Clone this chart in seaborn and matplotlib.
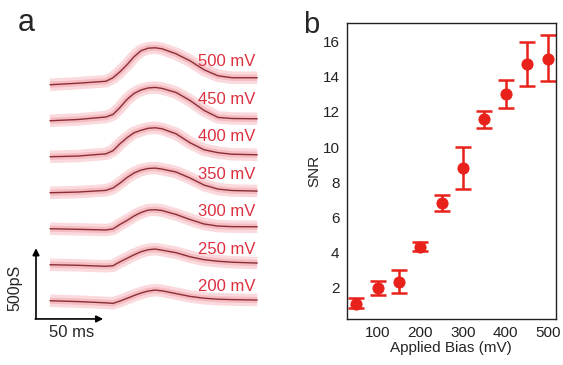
import numpy as np
import pandas as pd
import matplotlib
matplotlib.use('Agg')
import matplotlib.pyplot as plt
import seaborn as sns

# panel a: conductance traces (pS) vs time (ms)
t_ms = [0, 20, 40, 45, 50, 55, 60, 65, 70, 75, 80, 90, 100, 110, 120, 130, 148]
g_200 = [0, -6, -15, -19, -2, 17, 37, 55, 69, 76, 71, 51, 31, 18, 11, 8, 5]
g_250 = [0, -4, -11, -7, 21, 46, 71, 93, 107, 112, 104, 86, 57, 36, 25, 18, 12]
g_300 = [0, -4, -9, -1, 31, 59, 91, 116, 133, 136, 130, 102, 66, 34, 19, 15, 14]
g_350 = [0, 5, 17, 34, 69, 109, 141, 162, 173, 176, 169, 148, 105, 55, 26, 16, 12]
g_400 = [0, 5, 21, 43, 93, 136, 171, 189, 203, 207, 200, 164, 100, 50, 29, 18, 14]
g_450 = [0, 9, 27, 45, 95, 152, 195, 220, 234, 238, 231, 202, 145, 74, 24, 16, 14]
g_500 = [0, 11, 25, 50, 93, 143, 200, 243, 261, 264, 257, 221, 171, 107, 64, 50, 50]
trace_labels = ['200 mV', '250 mV', '300 mV', '350 mV', '400 mV', '450 mV', '500 mV']

# panel b: SNR vs applied bias
bias = [50, 100, 150, 200, 250, 300, 350, 400, 450, 500]
snr = [1.08, 1.96, 2.29, 4.33, 6.83, 8.81, 11.6, 13.03, 14.75, 15.03]
snr_lo = [0.85, 1.58, 1.66, 4.10, 6.35, 7.61, 11.06, 12.25, 13.49, 13.77]
snr_hi = [1.37, 2.34, 2.99, 4.61, 7.29, 10.02, 12.08, 13.83, 15.99, 16.37]

sns.set_style('white')
plt.rcParams['font.family'] = ['Liberation Sans', 'DejaVu Sans']

red = '#e8211b'
label_red = '#dc3040'

fig = plt.figure(figsize=(5.63, 3.65), dpi=100)

# ---- panel a ----
ax_a = fig.add_axes([0, 20 / 365, 262 / 563, 330 / 365])
ax_a.set_xlim(-35.7, 151.4)
ax_a.set_ylim(-316, 2040)
ax_a.axis('off')

step = 257
traces = [g_200, g_250, g_300, g_350, g_400, g_450, g_500]
for i, (g, lab) in enumerate(zip(traces, trace_labels)):
    df = pd.DataFrame({'t': t_ms, 'g': np.array(g) + i * step})
    # noisy raw-data band, drawn as soft wide strokes
    sns.lineplot(data=df, x='t', y='g', ax=ax_a, color='#fad6da', lw=9,
                 alpha=0.9, solid_capstyle='butt', legend=False)
    sns.lineplot(data=df, x='t', y='g', ax=ax_a, color='#f2a9b1', lw=4.5,
                 alpha=0.6, solid_capstyle='butt', legend=False)
    sns.lineplot(data=df, x='t', y='g', ax=ax_a, color='#8a2e36', lw=1.0,
                 legend=False)
    ax_a.text(147, i * 268 + 100, lab, color=label_red, fontsize=12,
              ha='right', va='center')
ax_a.set_xlabel('')
ax_a.set_ylabel('')

# scale bar arrows
arrow = dict(arrowstyle='-|>', lw=1.2, color='black', mutation_scale=10,
             shrinkA=0, shrinkB=0)
ax_a.annotate('', xy=(-10, 375), xytext=(-10, -130), arrowprops=arrow)
ax_a.annotate('', xy=(38, -130), xytext=(-10.5, -130), arrowprops=arrow)
ax_a.text(-0.7, -225, '50 ms', fontsize=12, ha='left', va='center')
ax_a.text(-25, 95, '500pS', fontsize=11.5, rotation=90, ha='center', va='center')

# ---- panel b ----
ax_b = fig.add_axes([346.5 / 563, 46 / 365, 209.5 / 563, 296 / 365])
yerr = [np.array(snr) - np.array(snr_lo), np.array(snr_hi) - np.array(snr)]
ax_b.errorbar(bias, snr, yerr=yerr, fmt='none', ecolor=red, elinewidth=1.8,
              capsize=6, capthick=1.8, zorder=2)
sns.scatterplot(x=bias, y=snr, ax=ax_b, color=red, edgecolor=red, s=65,
                zorder=3, legend=False)
ax_b.set_xlim(27, 518)
ax_b.set_ylim(0.2, 17.07)
ax_b.set_xticks([100, 200, 300, 400, 500])
ax_b.set_yticks([2, 4, 6, 8, 10, 12, 14, 16])
ax_b.tick_params(direction='out', length=3, width=1, labelsize=11,
                 colors='#222222', pad=2)
ax_b.set_xlabel('Applied Bias (mV)', fontsize=11, labelpad=1)
ax_b.set_ylabel('SNR', fontsize=11, labelpad=1)
for sp in ax_b.spines.values():
    sp.set_color('#222222')
    sp.set_linewidth(1)

fig.text(18 / 563, 1 - 31 / 365, 'a', fontsize=22, va='baseline')
fig.text(303 / 563, 1 - 33 / 365, 'b', fontsize=21, va='baseline')

fig.savefig('out.png', dpi=100)
